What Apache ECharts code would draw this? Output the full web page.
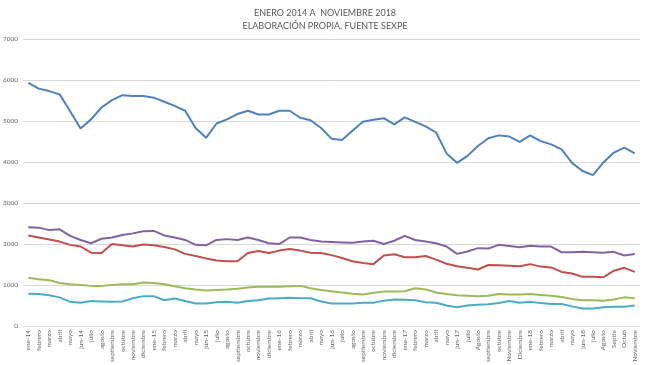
<!DOCTYPE html>
<html>
<head>
<meta charset="utf-8">
<script src="https://cdn.jsdelivr.net/npm/echarts@6/dist/echarts.min.js"></script>
<style>html,body{margin:0;padding:0;background:#fff}#c{width:650px;height:365px}</style>
</head>
<body>
<div id="c"></div>
<script>
const categories = ["ene-14","febrero","marzo","abril","mayo","jun-14","julio","agosto","septiembre","octubre","noviembre","diciembre",
"ene-15","febrero","marzo","abril","mayo","jun-15","julio","agosto","septiembre","octubre","noviembre","diciembre",
"ene-16","febrero","marzo","abril","mayo","jun-16","julio","agosto","septiembre","octubre","noviembre","diciembre",
"ene-17","febrero","marzo","abril","mayo","jun-17","julio","Agosto","septiembre","octubre","Noviembre","Diciembre",
"ene-18","febrero","marzo","abril","mayo","jun-18","julio","Agosto","Septie","Octub","Noviembre"];

const serieAzul = [5930,5790,5730,5650,5240,4820,5040,5330,5510,5630,5610,5610,
5570,5470,5370,5250,4830,4590,4940,5040,5170,5250,5160,5160,
5250,5250,5080,5020,4830,4570,4540,4760,4980,5030,5070,4920,
5090,4980,4870,4720,4210,3980,4150,4390,4580,4650,4620,4490,
4650,4510,4430,4310,3980,3780,3680,3990,4230,4350,4210];

const serieRoja = [2210,2160,2110,2060,1980,1940,1790,1780,2000,1970,1940,1990,
1970,1930,1870,1760,1710,1650,1600,1580,1580,1780,1830,1780,
1840,1880,1840,1790,1780,1730,1660,1580,1540,1510,1720,1750,
1680,1680,1710,1620,1520,1460,1420,1380,1490,1480,1470,1460,
1510,1450,1430,1320,1280,1200,1200,1190,1350,1420,1320];

const serieVerde = [1180,1140,1120,1050,1020,1000,980,980,1000,1020,1020,1060,
1050,1020,970,920,890,870,880,890,910,940,960,960,
960,970,980,920,880,850,820,790,770,810,840,840,
850,920,890,820,780,750,740,730,740,780,770,770,
780,760,740,710,660,630,630,620,650,700,680];

const serieMorada = [2410,2400,2340,2360,2200,2100,2020,2130,2160,2220,2260,2310,
2320,2210,2160,2100,1980,1970,2100,2120,2100,2160,2100,2020,
2000,2160,2160,2100,2060,2050,2040,2030,2060,2080,2000,2080,
2200,2100,2060,2020,1940,1760,1820,1900,1890,1980,1950,1920,
1960,1940,1940,1800,1800,1810,1800,1790,1810,1720,1760];

const serieCian = [790,780,750,700,590,570,610,600,590,600,680,730,
730,630,670,610,550,550,580,590,570,610,630,670,
680,690,680,680,600,550,550,550,570,570,620,650,
640,630,580,570,500,460,500,520,530,560,610,570,
590,560,540,540,480,430,430,460,470,470,500];

const yTicks = {min:0, max:7000, interval:1000};

const mk = (name, data, color) => ({
  name, type:'line', data, symbol:'none', smooth:false,
  lineStyle:{color, width:2}, itemStyle:{color}
});

const chart = echarts.init(document.getElementById('c'), null, {renderer:'canvas'});
chart.setOption({
  animation:false,
  title:{
    text:'ENERO 2014 A  NOVIEMBRE 2018\nELABORACIÓN PROPIA, FUENTE SEXPE',
    left:'center', top:2,
    textStyle:{fontFamily:'Lato', fontSize:9, fontWeight:'normal', color:'#595959', lineHeight:12.5}
  },
  grid:{left:20, right:10, top:39, bottom:31, containLabel:false},
  xAxis:{
    type:'category', data:categories, boundaryGap:true,
    axisLine:{show:true, lineStyle:{color:'#d9d9d9'}},
    axisTick:{show:false},
    axisLabel:{rotate:90, interval:0, fontSize:6.5, color:'#666666', fontFamily:'Lato', margin:4}
  },
  yAxis:{
    type:'value', min:yTicks.min, max:yTicks.max, interval:yTicks.interval,
    axisLine:{show:false}, axisTick:{show:false},
    axisLabel:{fontSize:6.5, color:'#666666', fontFamily:'Lato', margin:5, formatter:v => String(v)},
    splitLine:{lineStyle:{color:'#d9d9d9', width:1}}
  },
  series:[
    mk('Serie 1', serieAzul, '#4F81BD'),
    mk('Serie 2', serieRoja, '#C0504D'),
    mk('Serie 3', serieVerde, '#9BBB59'),
    mk('Serie 4', serieMorada, '#8064A2'),
    mk('Serie 5', serieCian, '#4BACC6')
  ]
});
</script>
</body>
</html>
